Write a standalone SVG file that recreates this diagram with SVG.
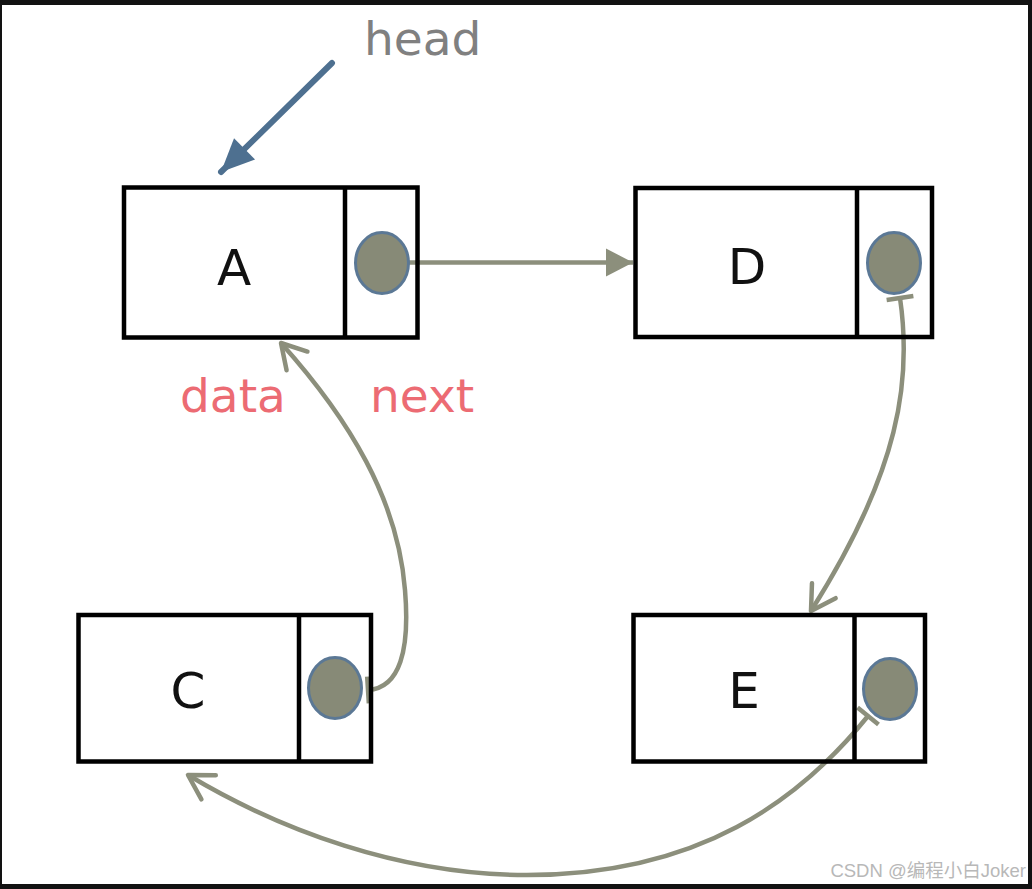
<svg xmlns="http://www.w3.org/2000/svg" width="1032" height="889" viewBox="0 0 1032 889">
<style>
.box{fill:none;stroke:#000;stroke-width:4.5}
.div{stroke:#000;stroke-width:4.5}
.dot{fill:#878a77;stroke:#5b7895;stroke-width:3}
.lbl{font-family:"DejaVu Sans",sans-serif;font-size:50px;fill:#111;text-anchor:middle}
.conn{fill:none;stroke:#8c8f7c;stroke-width:4.5}
.note{font-family:"DejaVu Sans",sans-serif;font-size:47px}
</style>
<defs>
<marker id="tri" markerUnits="userSpaceOnUse" viewBox="-30 -16 32 32" refX="0" refY="0" markerWidth="32" markerHeight="32" orient="auto">
<path d="M0 0 L-27 -14 L-27 14 Z" fill="#8c8f7c"/>
</marker>
<marker id="headtri" markerUnits="userSpaceOnUse" viewBox="-36 -18 38 36" refX="0" refY="0" markerWidth="38" markerHeight="36" orient="auto">
<path d="M0 0 L-33 -15 L-33 15 Z" fill="#4e7090"/>
</marker>
<marker id="chev" markerUnits="userSpaceOnUse" viewBox="-30 -20 34 40" refX="0" refY="0" markerWidth="34" markerHeight="40" orient="auto">
<path d="M-24 -14 L0 0 L-24 14" fill="none" stroke="#8c8f7c" stroke-width="4.5" stroke-linecap="round" stroke-linejoin="round"/>
</marker>
<marker id="bar" markerUnits="userSpaceOnUse" viewBox="-4 -16 8 32" refX="0" refY="0" markerWidth="8" markerHeight="32" orient="auto">
<path d="M0 -13.5 L0 13.5" stroke="#8c8f7c" stroke-width="4.5"/>
</marker>
</defs>
<rect x="0" y="0" width="1032" height="889" fill="#121212"/>
<rect x="2" y="5" width="1026" height="879" fill="#fff"/>

<g id="connectors">
<line x1="332" y1="63" x2="221" y2="172" stroke="#4e7090" stroke-width="6" stroke-linecap="round" marker-end="url(#headtri)"/>
<line class="conn" x1="409" y1="262.5" x2="633" y2="262.5" marker-end="url(#tri)"/>
<path class="conn" d="M900 298 C912 380 900 470 811 611" marker-start="url(#bar)" marker-end="url(#chev)"/>
<path class="conn" d="M368 690 C400 688 410 650 405 590 C398 500 350 420 281 343" marker-start="url(#bar)" marker-end="url(#chev)"/>
<path class="conn" d="M868 716 C800 800 700 875 527 875 C400 875 280 830 188 775" marker-start="url(#bar)" marker-end="url(#chev)"/>
</g>

<g id="node-A">
<rect class="box" x="124" y="187.5" width="293.5" height="150"/>
<line class="div" x1="345" y1="187.5" x2="345" y2="337.5"/>
<ellipse class="dot" cx="382" cy="263" rx="26.5" ry="30.5"/>
<text class="lbl" x="234" y="285">A</text>
</g>
<g id="node-D">
<rect class="box" x="635.5" y="188" width="296.5" height="149"/>
<line class="div" x1="857" y1="188" x2="857" y2="337"/>
<ellipse class="dot" cx="894" cy="263" rx="26.5" ry="30.5"/>
<text class="lbl" x="747" y="284">D</text>
</g>
<g id="node-C">
<rect class="box" x="78.5" y="615" width="292.5" height="146.5"/>
<line class="div" x1="299" y1="615" x2="299" y2="761.5"/>
<ellipse class="dot" cx="335" cy="688" rx="26.5" ry="30.5"/>
<text class="lbl" x="188" y="708">C</text>
</g>
<g id="node-E">
<rect class="box" x="633.5" y="615" width="291.5" height="146.5"/>
<line class="div" x1="854.5" y1="615" x2="854.5" y2="761.5"/>
<ellipse class="dot" cx="890" cy="689" rx="26.5" ry="30.5"/>
<text class="lbl" x="744" y="708">E</text>
</g>

<g id="labels">
<text class="note" x="364" y="55" fill="#808080">head</text>
<text class="note" x="180" y="412" fill="#ec6b73">data</text>
<text class="note" x="370" y="412" fill="#ec6b73">next</text>
<text x="1026" y="877" text-anchor="end" font-family="'Liberation Sans','Noto Sans CJK SC',sans-serif" font-size="18.5" fill="#b8b8b8">CSDN @编程小白Joker</text>
</g>
</svg>
